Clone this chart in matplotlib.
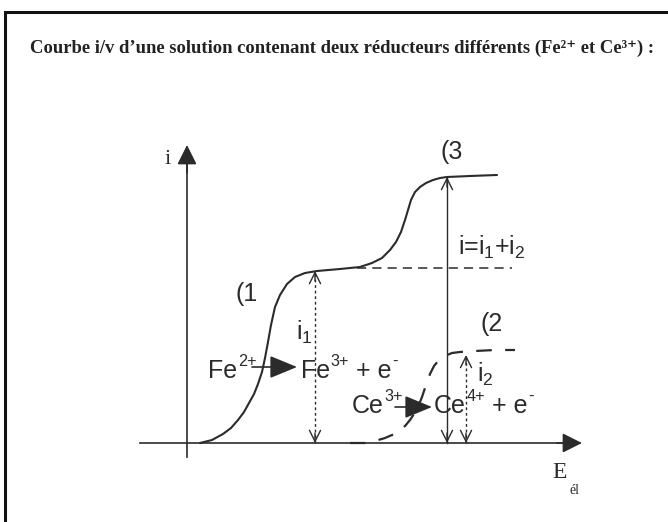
import numpy as np
import matplotlib.pyplot as plt
from matplotlib.patches import Rectangle

plt.rcParams['mathtext.fontset'] = 'custom'
plt.rcParams['mathtext.rm'] = 'Liberation Sans'
plt.rcParams['mathtext.default'] = 'regular'

ink = '#2b2b2b'
fs = 18

# courbe totale (3) : somme des deux vagues
E_tot = [0.13, 0.25, 0.36, 0.44, 0.51, 0.57, 0.62, 0.67, 0.71, 0.75, 0.78, 0.81, 0.84,
         0.88, 0.93, 1.00, 1.08, 1.18, 1.30,
         1.53, 1.73, 1.85, 1.95, 2.03, 2.09, 2.14, 2.18, 2.21, 2.24, 2.28, 2.33, 2.39,
         2.46, 2.53, 2.60, 2.83, 3.10]
i_tot = [0.00, 0.03, 0.09, 0.15, 0.23, 0.31, 0.40, 0.49, 0.59, 0.71, 0.85, 1.01, 1.18,
         1.36, 1.48, 1.59, 1.66, 1.70, 1.72,
         1.74, 1.76, 1.80, 1.85, 1.93, 2.01, 2.11, 2.23, 2.33, 2.43, 2.51, 2.56, 2.60,
         2.63, 2.65, 2.66, 2.67, 2.68]

# vague du cerium seul (2)
E_ce = [1.63, 1.78, 1.88, 1.98, 2.05, 2.11, 2.18, 2.23, 2.27, 2.31, 2.35, 2.39, 2.43,
        2.47, 2.52, 2.58, 2.65, 2.73, 2.88, 3.08, 3.28]
i_ce = [0.00, 0.00, 0.02, 0.05, 0.08, 0.11, 0.17, 0.23, 0.29, 0.36, 0.46, 0.58, 0.69,
        0.77, 0.83, 0.87, 0.90, 0.91, 0.92, 0.93, 0.93]

# palier du fer seul (1)
E_fe_palier = [1.70, 3.25]
i1 = 1.75
i2 = 0.88
i_total = 2.66
E_i1, E_itot, E_i2 = 1.28, 2.60, 2.79

fig = plt.figure(figsize=(6.68, 5.22), dpi=100)
ax = fig.add_axes([0, 0, 1, 1])
ax.set_xlim(-1.87, 4.81)
ax.set_ylim(-0.79, 4.43)
ax.axis('off')

# cadre
fig.patches.append(Rectangle((5 / 668, -0.2), 1.2, 1.2 - 12 / 522, transform=fig.transFigure,
                             fill=False, lw=2.2, ec='#111111'))
fig.text(30 / 668, 1 - 48 / 522,
         "Courbe i/v d\u2019une solution contenant deux réducteurs différents (Fe²⁺ et Ce³⁺) :",
         family=['Liberation Serif', 'DejaVu Serif'], fontweight='bold', fontsize=13.4,
         color='#222222', va='center', ha='left')

# axes
fleche_pleine = dict(arrowstyle='-|>,head_length=0.6,head_width=0.3', mutation_scale=20,
                     color=ink, lw=1.2, shrinkA=0, shrinkB=0)
ax.plot([-0.47, 3.85], [0, 0], color=ink, lw=1.2)
ax.annotate('', xy=(3.95, 0), xytext=(3.7, 0), arrowprops=fleche_pleine)
ax.plot([0, 0], [-0.14, 2.85], color=ink, lw=1.2)
ax.annotate('', xy=(0, 2.98), xytext=(0, 2.7), arrowprops=fleche_pleine)
ax.text(-0.19, 2.83, 'i', family='Liberation Serif', fontsize=16, color=ink, ha='center', va='center')
ax.text(3.73, -0.30, 'E', family='Liberation Serif', fontsize=17, color=ink, ha='center', va='center')
ax.text(3.82, -0.47, 'él', family='Liberation Serif', fontsize=10, color=ink, ha='left', va='center')

# courbes
ax.plot(E_tot, i_tot, color=ink, lw=1.5, solid_capstyle='round', solid_joinstyle='round')
ax.plot(E_fe_palier, [i1, i1], color=ink, lw=1.1, dashes=(6, 4))
ax.plot(E_ce, i_ce, color=ink, lw=1.6, dashes=(7, 6))


# fleches de courant limite
def double_fleche(x, y0, y1, ls):
    ax.plot([x, x], [y0, y1], color=ink, lw=1.0, linestyle=ls)
    for a, b in ((y0 + 0.1, y0), (y1 - 0.1, y1)):
        ax.annotate('', xy=(x, b), xytext=(x, a),
                    arrowprops=dict(arrowstyle='->,head_length=0.4,head_width=0.2', mutation_scale=20,
                                    color=ink, lw=1.0, shrinkA=0, shrinkB=0))


double_fleche(E_i1, 0, i1 - 0.03, (0, (2, 2)))
double_fleche(E_itot, 0, i_total, '-')
double_fleche(E_i2, 0, i2, (0, (2, 2)))


def formule(x, y, morceaux):
    # morceaux : (texte, exposant?) enchaines a droite les uns des autres
    base = ax.text(x, y, morceaux[0][0], fontsize=fs, color=ink, family='Liberation Sans',
                   va='baseline')
    prec = base
    for s, sup in morceaux[1:]:
        if sup:
            prec = ax.annotate(s, xy=(1, 1), xycoords=(prec, base), xytext=(0.5, 3.5),
                               textcoords='offset points', fontsize=fs * 0.65, color=ink,
                               family='Liberation Sans', va='top', ha='left')
        else:
            prec = ax.annotate(s, xy=(1, 0), xycoords=(prec, base), fontsize=fs, color=ink,
                               family='Liberation Sans', va='bottom', ha='left')


ax.text(2.53, 2.91, '(3', fontsize=fs, color=ink, family='Liberation Sans', va='center')
ax.text(0.48, 1.49, '(1', fontsize=fs, color=ink, family='Liberation Sans', va='center')
ax.text(2.93, 1.19, '(2', fontsize=fs, color=ink, family='Liberation Sans', va='center')
ax.text(2.71, 1.88, 'i=i$_1$+i$_2$', fontsize=fs, color=ink, family='Liberation Sans', va='baseline')
ax.text(1.09, 1.03, 'i$_1$', fontsize=fs, color=ink, family='Liberation Sans', va='baseline')
ax.text(2.90, 0.61, 'i$_2$', fontsize=fs, color=ink, family='Liberation Sans', va='baseline')

# reactions d'oxydation
fleche_reac = dict(arrowstyle='-|>,head_length=0.85,head_width=0.35', mutation_scale=20,
                   color=ink, lw=1.2, shrinkA=0, shrinkB=0)
formule(0.21, 0.65, [('Fe', False), ('2+', True)])
ax.annotate('', xy=(1.10, 0.76), xytext=(0.65, 0.76), arrowprops=fleche_reac)
formule(1.14, 0.65, [('Fe', False), ('3+', True), (' + e', False), ('-', True)])
formule(1.65, 0.30, [('Ce', False), ('3+', True)])
ax.annotate('', xy=(2.45, 0.36), xytext=(2.08, 0.36), arrowprops=fleche_reac)
formule(2.47, 0.30, [('Ce', False), ('4+', True), (' + e', False), ('-', True)])

fig.savefig('out.png', dpi=100)
